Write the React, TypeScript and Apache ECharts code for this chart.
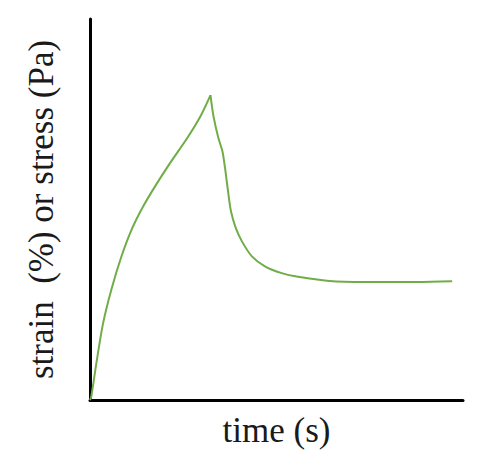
import React, { useEffect, useRef } from "react";
import * as echarts from "echarts";

// time (arbitrary units, 0..100) and response (arbitrary units, 0..100)
const timeValues = [
  0, 0.35, 1.7, 3.5, 5.7, 8.4, 11.1, 14.2, 17.4, 21.4, 26.3, 29.8, 32.3,
  33.1, 34.4, 35.5, 36.2, 36.9, 37.8, 39.1, 40.7, 43.4, 46.9, 51.4, 55.0, 65.1, 75.9, 87.7, 97.1,
];
const responseValues = [
  0, 0.9, 9.6, 20.1, 28.9, 37.6, 44.6, 50.7, 56.0, 62.1, 69.1, 74.8, 80.0,
  74.5, 68.8, 65.3, 60.9, 55.6, 49.5, 45.1, 41.7, 37.7, 35.1, 33.3, 32.5, 31.2, 31.0, 31.0, 31.2,
];
const peakIndex = 12; // loading ends here, relaxation starts
const xAxisTitle = "time (s)";
const yAxisTitle = "strain  (%) or stress (Pa)";

export default function App() {
  const ref = useRef<HTMLDivElement>(null);
  useEffect(() => {
    if (!ref.current) return;
    const chart = echarts.init(ref.current, null, { renderer: "svg" });
    const data = timeValues.map((t, i) => [t, responseValues[i]]);
    const loading = data.slice(0, peakIndex + 1);
    const relaxation = data.slice(peakIndex);
    const lineStyle = { color: "#70AD47", width: 2 };
    const nameTextStyle = {
      fontFamily: "Liberation Serif",
      fontSize: 35,
      color: "#1a1a1a",
    };
    chart.setOption({
      animation: false,
      grid: { left: 90, top: 19, right: 26, bottom: 61 },
      xAxis: {
        type: "value",
        min: 0,
        max: 100,
        name: xAxisTitle,
        nameLocation: "middle",
        nameGap: 13,
        nameTextStyle,
        axisLine: { show: true, onZero: false, lineStyle: { color: "#000", width: 3 } },
        axisTick: { show: false },
        axisLabel: { show: false },
        splitLine: { show: false },
      },
      yAxis: {
        type: "value",
        min: 0,
        max: 100,
        name: yAxisTitle,
        nameLocation: "middle",
        nameRotate: 90,
        nameGap: 31,
        nameTextStyle,
        axisLine: { show: true, onZero: false, lineStyle: { color: "#000", width: 3 } },
        axisTick: { show: false },
        axisLabel: { show: false },
        splitLine: { show: false },
      },
      series: [
        { type: "line", data: loading, showSymbol: false, smooth: 0.3, lineStyle },
        { type: "line", data: relaxation, showSymbol: false, smooth: 0.3, lineStyle },
      ],
    });
    return () => chart.dispose();
  }, []);
  return <div ref={ref} style={{ width: 489, height: 461, position: "absolute", left: 0, top: 0 }} />;
}
